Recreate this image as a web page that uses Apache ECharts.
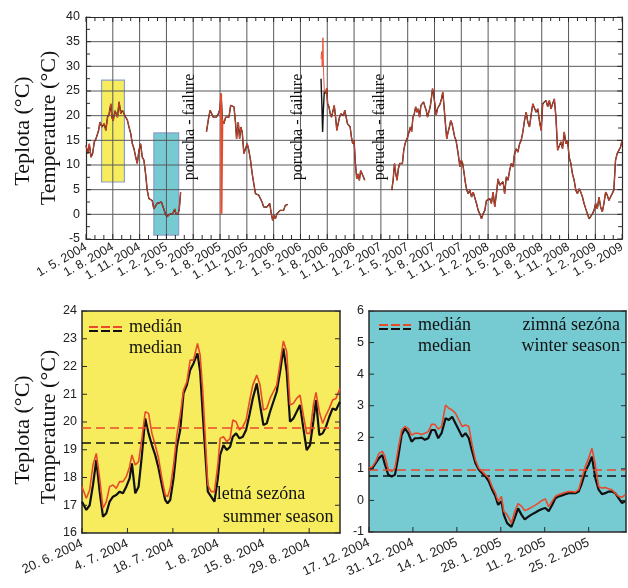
<!DOCTYPE html>
<html><head><meta charset="utf-8">
<script src="https://cdn.jsdelivr.net/npm/echarts@6/dist/echarts.min.js"></script>
<style>html,body{margin:0;padding:0;background:#fff}#c{width:628px;height:588px}</style>
</head><body><div id="c"></div>
<script>
// ---------- top chart: x = months since 1. 5. 2004 ----------
const topTickLabels = ['1. 5. 2004','1. 8. 2004','1. 11. 2004','1. 2. 2005','1. 5. 2005','1. 8. 2005','1. 11. 2005','1. 2. 2006','1. 5. 2006','1. 8. 2006','1. 11. 2006','1. 2. 2007','1. 5. 2007','1. 8. 2007','1. 11. 2007','1. 2. 2008','1. 5. 2008','1. 8. 2008','1. 11. 2008','1. 2. 2009','1. 5. 2009'];

const seg1 = [[0,14.0],[0.19,12.3],[0.37,14.3],[0.56,11.6],[0.74,12.3],[0.93,14.7],[1.11,15.3],[1.41,17.0],[1.56,18.7],[1.78,17.7],[2.04,18.4],[2.22,17.0],[2.41,19.7],[2.59,20.4],[2.78,22.4],[2.89,19.7],[3.04,19.0],[3.26,21.0],[3.52,19.7],[3.70,22.8],[3.89,20.4],[4.07,21.1],[4.26,20.4],[4.44,19.7],[4.63,19.1],[4.81,17.7],[5.00,16.4],[5.19,14.3],[5.37,13.3],[5.56,11.6],[5.74,10.3],[5.93,13.0],[6.11,14.3],[6.30,11.6],[6.48,11.0],[6.67,8.2],[6.85,4.9],[7.04,3.2],[7.22,3.5],[7.41,2.8],[7.59,1.1],[7.78,1.5],[7.96,2.2],[8.15,1.8],[8.44,2.5],[8.63,1.5],[8.89,0.1],[9.07,-0.5],[9.26,-0.2],[9.44,0.1],[9.70,0.1],[9.93,1.1],[10.07,0.1],[10.30,0.1],[10.44,1.1],[10.59,4.5]];

const seg2 = [[13.48,16.7],[13.71,19.4],[13.89,21.1],[14.07,20.4],[14.22,19.7],[14.44,20.1],[14.59,19.7],[14.82,20.4],[15.0,21.4],[15.11,24.5],[15.27,19.0],[15.44,18.4],[15.63,19.7],[15.82,20.1],[16.0,19.7],[16.19,22.1],[16.37,22.4],[16.56,21.8],[16.74,18.4],[16.85,15.3],[17.04,18.7],[17.19,15.3],[17.33,17.7],[17.48,16.7],[17.67,12.3],[17.85,13.3],[18.04,14.3],[18.22,13.0],[18.41,11.0],[18.6,8.2],[18.78,6.2],[18.96,4.2],[19.15,4.5],[19.33,3.9],[19.52,3.5],[19.7,2.5],[19.89,1.5],[20.08,1.1],[20.26,1.5],[20.45,1.1],[20.56,2.2],[20.74,0.1],[20.89,-1.2],[21.04,-0.2],[21.19,-0.9],[21.37,0.1],[21.56,-0.2],[21.74,0.8],[21.93,1.1],[22.11,0.8],[22.3,1.8],[22.48,1.5],[22.59,2.0]];

const redSpike2005 = [[15.12,24.3],[15.16,0.1],[15.22,0.1],[15.26,19.2]];

const blackStart2006 = [[26.30,27.5],[26.40,22.0],[26.48,16.7],[26.56,21.0],[26.67,25.0]];
const redStart2006 = [[26.30,31.5],[26.37,33.0],[26.44,30.0],[26.52,35.8],[26.60,28.0],[26.67,25.0]];

const seg3 = [[26.81,24.5],[26.93,25.5],[27.04,22.4],[27.19,21.8],[27.33,20.4],[27.48,19.7],[27.63,19.4],[27.78,22.1],[27.93,19.7],[28.07,17.0],[28.22,18.4],[28.37,19.7],[28.52,20.4],[28.67,20.7],[28.81,20.0],[28.96,21.1],[29.11,20.7],[29.26,18.4],[29.41,18.0],[29.56,17.7],[29.70,15.7],[29.85,14.3],[30.0,15.0],[30.15,10.3],[30.30,7.2],[30.44,8.2],[30.59,6.9],[30.74,8.9],[30.89,8.9],[31.04,7.6],[31.19,6.9]];

const seg4 = [[34.22,4.9],[34.37,6.9],[34.52,10.3],[34.67,8.2],[34.81,6.9],[34.96,9.3],[35.11,10.3],[35.26,9.9],[35.41,10.3],[35.56,13.0],[35.70,14.3],[35.85,14.0],[36.0,15.7],[36.15,16.0],[36.30,17.7],[36.44,16.7],[36.59,19.7],[36.74,20.4],[36.89,21.8],[37.04,20.7],[37.19,21.4],[37.33,19.7],[37.48,22.1],[37.63,22.4],[37.78,22.8],[37.93,21.8],[38.07,21.1],[38.22,19.7],[38.37,19.4],[38.52,21.8],[38.67,23.8],[38.78,25.5],[38.89,24.5],[39.04,22.4],[39.19,20.1],[39.33,21.4],[39.48,21.1],[39.63,22.4],[39.78,23.4],[39.93,24.8],[40.07,21.8],[40.22,18.4],[40.37,15.3],[40.52,16.7],[40.67,17.7],[40.81,19.0],[40.96,18.4],[41.11,17.0],[41.26,15.7],[41.41,15.0],[41.56,13.3],[41.70,11.6],[41.85,9.6],[42.0,11.0],[42.15,10.3],[42.30,8.5],[42.45,6.5],[42.60,5.0],[42.78,4.2],[42.96,4.9],[43.15,3.5],[43.33,4.5],[43.52,4.2],[43.70,2.2],[43.89,0.8],[44.07,0.1],[44.26,-0.9],[44.44,0.1],[44.63,0.8],[44.81,2.8],[45.0,2.5],[45.19,3.2],[45.37,2.2],[45.56,4.5],[45.74,1.5],[45.93,4.2],[46.11,7.2],[46.30,5.9],[46.48,6.2],[46.67,6.6],[46.85,4.2],[47.04,7.6],[47.22,6.9],[47.41,8.9],[47.59,10.3],[47.78,9.6],[47.96,12.3],[48.15,13.3],[48.33,12.6],[48.52,14.3],[48.70,15.0],[48.89,16.7],[49.07,19.0],[49.26,20.7],[49.44,18.7],[49.63,17.7],[49.81,20.1],[50.0,22.4],[50.19,22.8],[50.37,20.7],[50.56,21.4],[50.74,19.0],[50.93,17.0],[51.11,22.4],[51.30,22.4],[51.48,23.1],[51.67,21.8],[51.85,23.1],[52.04,21.4],[52.22,22.4],[52.41,23.4],[52.59,19.7],[52.78,13.0],[52.96,12.6],[53.15,14.7],[53.33,13.3],[53.52,16.7],[53.70,14.3],[53.89,15.0],[54.07,11.6],[54.26,10.3],[54.44,8.2],[54.63,6.9],[54.81,4.9],[55.0,4.2],[55.19,5.2],[55.37,4.5],[55.56,3.5],[55.74,2.2],[55.93,1.1],[56.11,0.1],[56.30,-0.9],[56.48,-0.5],[56.67,0.1],[56.85,0.8],[57.04,2.2],[57.22,1.1],[57.41,3.5],[57.59,1.5],[57.78,0.5],[57.96,2.2],[58.15,4.5],[58.33,3.9],[58.52,2.8],[58.70,3.5],[58.89,3.2],[59.07,4.9],[59.26,11.0],[59.44,12.3],[59.63,12.6],[59.81,13.6],[60.0,15.0]];

// season boxes in (month, °C)
const summerBox = [[1.74,27.2],[4.3,6.55]];
const winterBox = [[7.59,16.5],[10.37,-4.2]];

// ---------- summer season: x = days since 20. 6. 2004 ----------
const summerTickLabels = ['20. 6. 2004','4. 7. 2004','18. 7. 2004','1. 8. 2004','15. 8. 2004','29. 8. 2004'];
const summerDays = [0,1.33,2.36,3.38,4.41,5.44,6.46,7.49,8.51,9.54,10.56,11.59,12.62,13.64,14.67,15.38,16.41,17.44,18.46,19.49,20.51,21.54,22.56,23.59,24.62,25.64,26.36,27.18,28.21,29.23,30.26,31.28,32.31,33.33,34.36,35.59,36.41,37.23,37.95,38.77,39.79,40.82,41.85,42.56,43.59,44.62,45.64,46.46,47.49,48.51,49.54,50.56,51.59,52.62,53.85,54.87,55.9,56.92,57.95,58.97,60.0,61.03,62.05,63.08,64.1,65.13,66.15,67.18,68.21,69.23,70.26,71.28,72.1,73.13,74.15,75.18,76.21,77.23,78.26,79.49];
const summerBlack = [17.13,16.83,17.0,17.73,18.63,17.49,16.59,16.71,17.13,17.31,17.37,17.49,17.43,17.67,17.97,18.51,17.43,17.67,18.81,20.13,19.59,19.17,18.81,18.33,17.73,17.19,17.07,17.19,17.97,19.11,19.71,21.03,21.33,21.87,22.11,22.47,21.81,20.25,18.93,17.49,17.31,17.13,17.97,18.81,19.17,18.99,19.11,19.47,19.59,19.41,19.47,19.71,20.25,20.85,21.39,20.61,19.89,19.95,20.37,20.73,21.09,21.81,22.65,21.81,20.01,20.13,20.37,20.61,19.77,18.99,19.17,20.01,20.79,19.53,19.59,19.83,20.19,20.49,20.43,20.73];
const summerRed = [17.67,17.25,17.55,18.45,18.87,17.97,16.89,17.13,17.67,17.73,17.61,17.85,17.85,18.03,18.39,18.81,18.45,18.57,19.41,20.37,20.31,19.59,19.17,18.69,17.97,17.37,17.31,17.61,18.45,19.53,20.25,21.15,21.45,22.23,22.23,22.83,22.41,21.09,19.53,17.73,17.49,17.49,18.45,19.41,19.47,19.29,19.41,20.07,20.01,19.71,19.83,20.07,20.73,21.33,21.69,21.33,20.43,20.49,20.85,21.09,21.33,22.11,22.92,22.53,20.61,20.67,20.85,20.97,20.25,19.59,19.59,20.61,21.07,20.37,19.95,20.25,20.49,20.79,20.85,21.21];
const summerMedianRed = 19.78;
const summerMedianBlack = 19.25;

// ---------- winter season: x = days since 17. 12. 2004 ----------
const winterTickLabels = ['17. 12. 2004','31. 12. 2004','14. 1. 2005','28. 1. 2005','11. 2. 2005','25. 2. 2005'];
const winterDays = [0,1.06,2.12,3.18,4.24,5.09,6.15,7.21,8.27,9.33,10.39,11.45,12.51,13.57,14.63,15.69,16.76,17.82,18.88,19.94,21.0,22.06,23.12,24.39,25.45,26.51,27.57,28.63,29.69,30.75,31.81,32.87,33.93,35.0,36.06,37.12,38.18,39.24,40.3,41.15,42.21,42.95,44.01,45.39,46.45,47.51,48.57,49.63,50.69,51.75,53.02,54.08,55.14,56.2,57.26,58.32,59.39,60.45,61.51,62.57,63.63,64.69,65.75,66.81,67.87,68.93,69.99,71.05,72.11,73.17,74.23,75.29,76.35,77.41,78.47,79.53,80.59,81.65];
const winterBlack = [0.97,1.02,1.18,1.34,1.44,1.13,0.81,0.76,0.81,1.39,2.07,2.28,2.13,1.86,1.97,1.97,1.99,1.92,1.97,2.23,2.23,1.97,2.13,2.6,2.55,2.65,2.44,2.23,2.02,2.13,1.97,1.55,1.18,0.97,0.86,0.76,0.6,0.34,0.13,-0.14,-0.03,-0.45,-0.72,-0.84,-0.55,-0.25,-0.45,-0.6,-0.52,-0.45,-0.38,-0.32,-0.27,-0.24,-0.34,-0.15,0.07,0.13,0.16,0.2,0.23,0.23,0.23,0.28,0.55,0.92,1.13,1.39,0.71,0.34,0.2,0.23,0.28,0.28,0.23,0.07,-0.08,-0.03];
const winterRed = [1.02,1.07,1.23,1.49,1.55,1.39,0.97,0.92,1.02,1.65,2.23,2.34,2.28,2.07,2.13,2.13,2.09,2.13,2.18,2.41,2.41,2.26,2.34,3.02,2.92,2.86,2.76,2.55,2.34,2.39,2.34,1.76,1.28,1.02,0.92,0.81,0.71,0.44,0.23,-0.03,0.13,-0.35,-0.45,-0.72,-0.35,-0.1,-0.18,-0.32,-0.28,-0.22,-0.15,-0.08,0.0,0.05,-0.2,-0.03,0.13,0.18,0.22,0.26,0.28,0.28,0.26,0.34,0.71,1.07,1.34,1.65,1.13,0.44,0.39,0.41,0.37,0.34,0.23,0.13,0.1,0.18];
const winterMedianRed = 0.97;
const winterMedianBlack = 0.78;

// ---------- layout & styling ----------
const GRIDS = [
  { left: 86, top: 17, width: 540, height: 222 },
  { left: 82, top: 311, width: 258, height: 222 },
  { left: 369, top: 311, width: 257, height: 221 }
];
const RED = '#ea4a2c', BLACK = '#111111';
const YELLOW = '#f6ec5e', CYAN = '#76cbd3', BOXBORDER = '#8d9ec8';
const SANS = '"Liberation Sans", Arial, sans-serif';
const SERIF = '"Liberation Serif", "Times New Roman", serif';
const AX = '#2a2a2a';
const GRIDLINE = '#5a5a5a';
const GAP = ['-', '-'];

const zip = (xs, ys) => xs.map((x, i) => [x, ys[i]]);
const range = (min, max, step) => { const r = []; for (let v = min; v <= max + 1e-9; v += step) r.push(+v.toFixed(6)); return r; };

function line(data, color, width, xi, yi, z, extra) {
  return Object.assign({
    type: 'line', data, xAxisIndex: xi, yAxisIndex: yi, z,
    symbol: 'none', animation: false, silent: true, connectNulls: false,
    lineStyle: { color, width }
  }, extra || {});
}
function medianLine(value, color) {
  return { symbol: 'none', silent: true, animation: false, label: { show: false },
    lineStyle: { color, width: 1.6, type: [9, 5] }, data: [{ yAxis: value }] };
}
const tickLab = (labels, step) => v => {
  const i = v / step;
  return Math.abs(i - Math.round(i)) < 1e-6 ? (labels[Math.round(i)] || '') : '';
};
function axis(grid, min, max, interval, position, opts) {
  opts = opts || {};
  return {
    gridIndex: grid, type: 'value', min, max, interval, position, z: 3,
    axisLine: { show: true, onZero: false, lineStyle: { color: AX, width: opts.lw || 1.2 } },
    axisTick: { show: false },
    splitLine: { show: false },
    axisLabel: opts.label ? Object.assign({ fontFamily: SANS, color: '#222' }, opts.label) : { show: false }
  };
}

// grid lines and inward ticks: gap-separated two-point segments on the axes' scales
function gridSegments(xr, yr, xStep, yStep) {
  const d = [];
  range(xr[0], xr[1], xStep).filter(v => v > xr[0] && v < xr[1]).forEach(v => d.push([v, yr[0]], [v, yr[1]], GAP));
  range(yr[0], yr[1], yStep).filter(v => v > yr[0] && v < yr[1]).forEach(v => d.push([xr[0], v], [xr[1], v], GAP));
  return d;
}
function tickSegments(gi, xr, yr, cfg) {
  const g = GRIDS[gi];
  const dx = px => px * (xr[1] - xr[0]) / g.width;
  const dy = px => px * (yr[1] - yr[0]) / g.height;
  const d = [];
  const xt = range(xr[0], xr[1], cfg.xStep), yt = range(yr[0], yr[1], cfg.yStep);
  const xT = (vals, len) => vals.forEach(v => {
    d.push([v, yr[0]], [v, yr[0] + dy(len)], GAP);
    if (cfg.topTicks) d.push([v, yr[1]], [v, yr[1] - dy(len)], GAP);
  });
  const yT = (vals, len) => vals.forEach(v => {
    d.push([xr[0], v], [xr[0] + dx(len), v], GAP);
    d.push([xr[1], v], [xr[1] - dx(len), v], GAP);
  });
  xT(xt, cfg.len); yT(yt, cfg.len);
  if (cfg.xMinor) xT(range(xr[0], xr[1], cfg.xMinor).filter(v => !xt.includes(v)), cfg.minorLen);
  if (cfg.yMinor) yT(range(yr[0], yr[1], cfg.yMinor).filter(v => !yt.includes(v)), cfg.minorLen);
  return d;
}

const chart = echarts.init(document.getElementById('c'), null, { renderer: 'canvas' });

const option = {
  backgroundColor: '#fff',
  animation: false,
  grid: GRIDS.map(g => Object.assign({ show: false }, g)),
  xAxis: [
    axis(0, 0, 60, 3, 'bottom', { label: { formatter: tickLab(topTickLabels, 3), rotate: 30, margin: 7, fontSize: 12.5 } }),
    axis(0, 0, 60, 3, 'top', {}),
    axis(1, 0, 79.5, 14, 'bottom', { lw: 1.5, label: { formatter: tickLab(summerTickLabels, 14), showMaxLabel: false, rotate: 25, margin: 10, fontSize: 13 } }),
    axis(1, 0, 79.5, 14, 'top', { lw: 1.5 }),
    axis(2, 0, 81.9, 14, 'bottom', { lw: 1.5, label: { formatter: tickLab(winterTickLabels, 14), showMaxLabel: false, rotate: 25, margin: 10, fontSize: 13 } }),
    axis(2, 0, 81.9, 14, 'top', { lw: 1.5 })
  ],
  yAxis: [
    axis(0, -5, 40, 5, 'left', { label: { margin: 6, fontSize: 12.5 } }),
    axis(0, -5, 40, 5, 'right', {}),
    axis(1, 16, 24, 1, 'left', { lw: 1.5, label: { margin: 5, fontSize: 12.5 } }),
    axis(1, 16, 24, 1, 'right', { lw: 1.5 }),
    axis(2, -1, 6, 1, 'left', { lw: 1.5, label: { margin: 5, fontSize: 12.5 } }),
    axis(2, -1, 6, 1, 'right', { lw: 1.5 })
  ],
  series: [
    // season boxes in the top chart
    line(seg1, 'rgba(0,0,0,0)', 0, 0, 0, 1, {
      markArea: { silent: true, animation: false, data: [
        [{ coord: summerBox[0], itemStyle: { color: YELLOW, borderColor: BOXBORDER, borderWidth: 1.2 } }, { coord: summerBox[1] }],
        [{ coord: winterBox[0], itemStyle: { color: CYAN, borderColor: BOXBORDER, borderWidth: 1.2 } }, { coord: winterBox[1] }]
      ] }
    }),
    // grid lines & ticks
    line(gridSegments([0, 60], [-5, 40], 3, 5), GRIDLINE, 1, 0, 0, 2),
    line(tickSegments(0, [0, 60], [-5, 40], { xStep: 3, xMinor: 1, yStep: 5, yMinor: 2.5, topTicks: true, len: 5, minorLen: 4 }), AX, 1, 0, 0, 6),
    line(tickSegments(1, [0, 79.5], [16, 24], { xStep: 14, yStep: 1, len: 5 }), AX, 1, 2, 2, 6),
    line(tickSegments(2, [0, 81.9], [-1, 6], { xStep: 14, yStep: 1, len: 5 }), AX, 1, 4, 4, 6),
    // top chart black (underneath)
    line(seg1, BLACK, 1.4, 0, 0, 4),
    line(seg2, BLACK, 1.4, 0, 0, 4),
    line(blackStart2006.concat(seg3), BLACK, 1.4, 0, 0, 4),
    line(seg4, BLACK, 1.4, 0, 0, 4),
    // top chart red
    line(seg1, RED, 0.9, 0, 0, 5),
    line(seg2, RED, 0.9, 0, 0, 5),
    line(redSpike2005, RED, 2, 0, 0, 5),
    line(redStart2006.concat(seg3), RED, 0.9, 0, 0, 5),
    line(seg4, RED, 0.9, 0, 0, 5),
    // summer
    line(zip(summerDays, summerBlack), BLACK, 2.2, 2, 2, 4, { markLine: medianLine(summerMedianBlack, BLACK) }),
    line(zip(summerDays, summerRed), RED, 1.6, 2, 2, 5, { markLine: medianLine(summerMedianRed, RED) }),
    // winter
    line(zip(winterDays, winterBlack), BLACK, 2.2, 4, 4, 4, { markLine: medianLine(winterMedianBlack, BLACK) }),
    line(zip(winterDays, winterRed), RED, 1.6, 4, 4, 5, { markLine: medianLine(winterMedianRed, RED) })
  ],
  graphic: [
    // panel backgrounds (placed at the grid rectangles)
    { type: 'rect', z: -10, silent: true, shape: { x: GRIDS[1].left, y: GRIDS[1].top, width: GRIDS[1].width, height: GRIDS[1].height }, style: { fill: YELLOW } },
    { type: 'rect', z: -10, silent: true, shape: { x: GRIDS[2].left, y: GRIDS[2].top, width: GRIDS[2].width, height: GRIDS[2].height }, style: { fill: CYAN } },
    // axis titles
    { type: 'text', x: 23, y: 131, rotation: Math.PI / 2, z: 10, style: { text: 'Teplota (°C)', font: '22px ' + SERIF, fill: '#111', textAlign: 'center', textVerticalAlign: 'middle' } },
    { type: 'text', x: 49, y: 128, rotation: Math.PI / 2, z: 10, style: { text: 'Temperature (°C)', font: '22px ' + SERIF, fill: '#111', textAlign: 'center', textVerticalAlign: 'middle' } },
    { type: 'text', x: 23, y: 430, rotation: Math.PI / 2, z: 10, style: { text: 'Teplota (°C)', font: '22px ' + SERIF, fill: '#111', textAlign: 'center', textVerticalAlign: 'middle' } },
    { type: 'text', x: 49, y: 427, rotation: Math.PI / 2, z: 10, style: { text: 'Temperature (°C)', font: '22px ' + SERIF, fill: '#111', textAlign: 'center', textVerticalAlign: 'middle' } },
    // failure notes
    { type: 'text', x: 190, y: 127, rotation: Math.PI / 2, z: 10, style: { text: 'porucha - failure', font: '16px ' + SERIF, fill: '#111', textAlign: 'center', textVerticalAlign: 'middle' } },
    { type: 'text', x: 298, y: 127, rotation: Math.PI / 2, z: 10, style: { text: 'porucha - failure', font: '16px ' + SERIF, fill: '#111', textAlign: 'center', textVerticalAlign: 'middle' } },
    { type: 'text', x: 380, y: 127, rotation: Math.PI / 2, z: 10, style: { text: 'porucha - failure', font: '16px ' + SERIF, fill: '#111', textAlign: 'center', textVerticalAlign: 'middle' } },
    // summer legend
    { type: 'line', z: 10, shape: { x1: 89, y1: 327, x2: 122, y2: 327 }, style: { stroke: RED, lineWidth: 2, lineDash: [9, 3] } },
    { type: 'line', z: 10, shape: { x1: 89, y1: 331, x2: 122, y2: 331 }, style: { stroke: BLACK, lineWidth: 2, lineDash: [9, 3] } },
    { type: 'text', x: 129, y: 327, z: 10, style: { text: 'medián', font: '18px ' + SERIF, fill: '#111', textAlign: 'left', textVerticalAlign: 'middle' } },
    { type: 'text', x: 129, y: 348, z: 10, style: { text: 'median', font: '18px ' + SERIF, fill: '#111', textAlign: 'left', textVerticalAlign: 'middle' } },
    { type: 'text', x: 261, y: 494, z: 10, style: { text: 'letná sezóna', font: '18px ' + SERIF, fill: '#111', textAlign: 'center', textVerticalAlign: 'middle' } },
    { type: 'text', x: 223, y: 517, z: 10, style: { text: 'summer season', font: '18px ' + SERIF, fill: '#111', textAlign: 'left', textVerticalAlign: 'middle' } },
    // winter legend
    { type: 'line', z: 10, shape: { x1: 379, y1: 325, x2: 411, y2: 325 }, style: { stroke: RED, lineWidth: 2, lineDash: [9, 3] } },
    { type: 'line', z: 10, shape: { x1: 379, y1: 329, x2: 411, y2: 329 }, style: { stroke: BLACK, lineWidth: 2, lineDash: [9, 3] } },
    { type: 'text', x: 418, y: 325, z: 10, style: { text: 'medián', font: '18px ' + SERIF, fill: '#111', textAlign: 'left', textVerticalAlign: 'middle' } },
    { type: 'text', x: 418, y: 346, z: 10, style: { text: 'median', font: '18px ' + SERIF, fill: '#111', textAlign: 'left', textVerticalAlign: 'middle' } },
    { type: 'text', x: 620, y: 325, z: 10, style: { text: 'zimná sezóna', font: '18px ' + SERIF, fill: '#111', textAlign: 'right', textVerticalAlign: 'middle' } },
    { type: 'text', x: 620, y: 346, z: 10, style: { text: 'winter season', font: '18px ' + SERIF, fill: '#111', textAlign: 'right', textVerticalAlign: 'middle' } }
  ]
};
chart.setOption(option);
</script>
</body></html>
